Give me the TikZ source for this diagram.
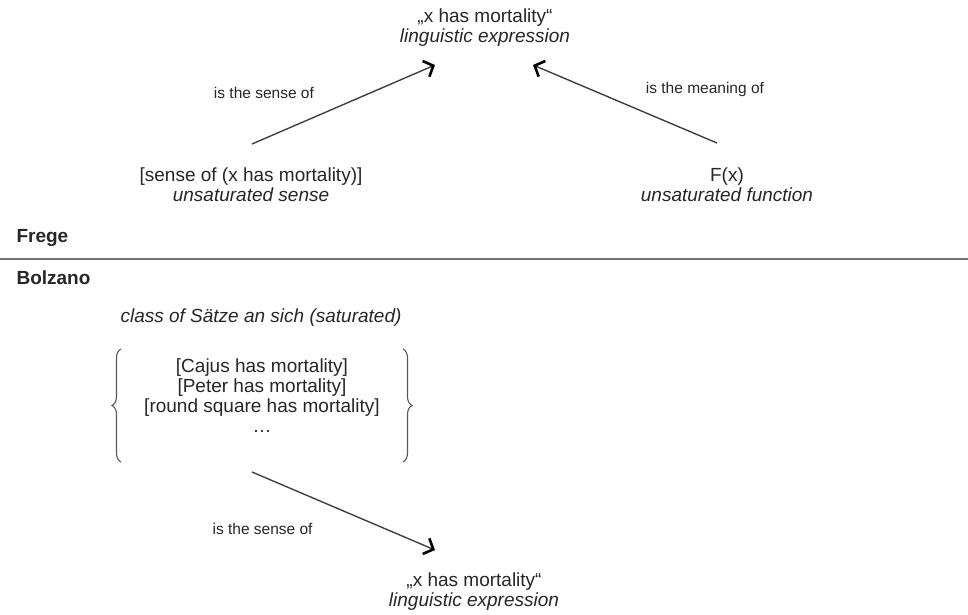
\documentclass[tikz,border=0pt]{standalone}
\usepackage{fontspec}
\setmainfont{Liberation Sans}
\usetikzlibrary{positioning, arrows.meta, decorations.pathreplacing}
\newcommand{\bigtext}{\fontsize{19}{20}\selectfont}
\newcommand{\lbltext}{\fontsize{15.5}{17}\selectfont}
\tikzset{x=1pt, y=1pt, % one unit is one pixel of the sketch
>={Straight Barb[length=8pt,width=17pt,line width=2.6pt,color=black]}, % open arrow heads
every node/.style={font=\bigtext, text=black!85},
term/.style={align=center}, % the two-line nodes
rel/.style={->, draw=black!75, line width=1.4pt}, % the arrows
rellbl/.style={font=\lbltext}, % text next to the arrows
setbrace/.style={decorate, decoration={brace, amplitude=9pt}, draw=black!65, line width=1.1pt},
}

\begin{document}
\begin{tikzpicture}
  \useasboundingbox (0,0) rectangle (968,-615);

  % Frege
  \node[term] (exprTop) at (485,-28) {„x has mortality“\\\textit{linguistic expression}};
  \node[term] (senseF) at (251,-185) {[sense of (x has mortality)]\\\textit{unsaturated sense}};
  \node[term, right of=senseF, node distance=476pt] (func) {F(x)\\\textit{unsaturated function}};

  \draw[rel] ([shift={(1,41)}]senseF.center) -- ([shift={(-50,-37)}]exprTop.center)
    node[rellbl, pos=.65, left=53pt] (lblSense) {is the sense of};
  \draw[rel] ([shift={(-10,42)}]func.center) -- ([shift={(48,-37)}]exprTop.center)
    node[rellbl, pos=.68, right=50pt] (lblMeaning) {is the meaning of};

  \node[anchor=base west, font=\bigtext\bfseries] (frege) at (13,-242) {Frege};
  \draw[black!55, line width=1.5pt] (0,-259) -- (968,-259);
  \node[anchor=base west, font=\bigtext\bfseries] (bolzano) at (13,-284) {Bolzano};

  % Bolzano
  \node (classLbl) at (261,-318) {\textit{class of Sätze an sich (saturated)}};
  \node[term] (saetze) at (262,-396) {{[Cajus has mortality]}\\{[Peter has mortality]}\\{[round square has mortality]}\\…};
  \draw[setbrace] ([shift={(-141,-66)}]saetze.center) -- ([shift={(-141,47)}]saetze.center);
  \draw[setbrace] ([shift={(141,47)}]saetze.center) -- ([shift={(141,-66)}]saetze.center);

  \node[term] (exprBot) at (474,-592) {„x has mortality“\\\textit{linguistic expression}};
  \draw[rel] ([shift={(-10,-76)}]saetze.center) -- ([shift={(-39,42)}]exprBot.center)
    node[rellbl, pos=.73, left=69pt] (lblSenseB) {is the sense of};
\end{tikzpicture}
\end{document}
